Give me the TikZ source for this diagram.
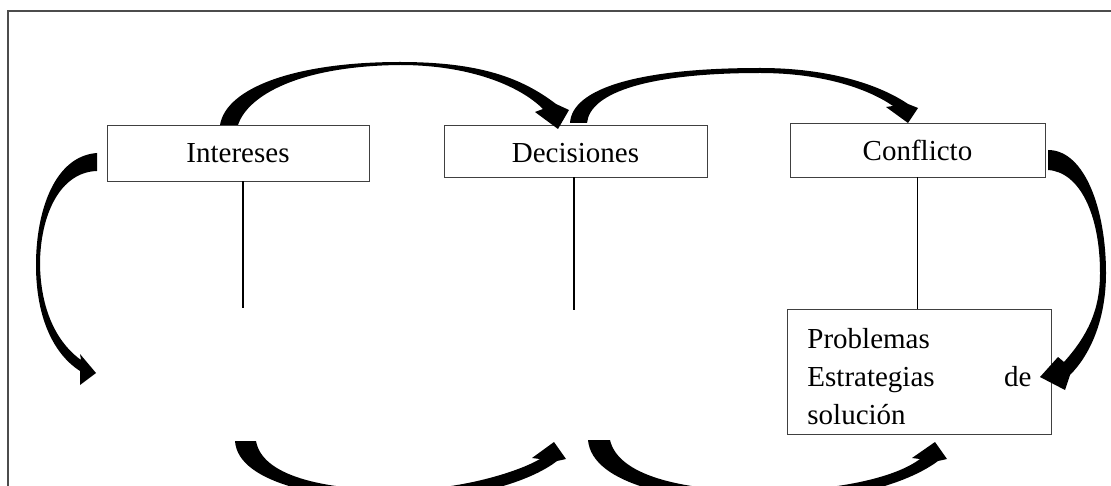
\documentclass[tikz,border=0pt]{standalone}
\usepackage{fontspec}
\setmainfont{Liberation Serif}
\begin{document}
\begin{tikzpicture}[x=1pt,y=-1pt,
  box/.style={draw=black!75, line width=0.9pt, inner sep=0pt, font=\fontsize{29}{37.8}\selectfont},
  conn/.style={draw=black, line width=1.1pt},
  frame/.style={draw=black!70, line width=1.2pt},
  bigarrow/.style={fill=black, draw=none}]
\useasboundingbox (0,0) rectangle (1111,486);
\clip (0,0) rectangle (1111,486);
% outer frame
\coordinate (fbl) at (8,490);
\coordinate (ftl) at (8,11);
\coordinate (ftr) at (1115,11);
\draw[frame] (fbl) -- (ftl) -- (ftr);
% boxes
\node[box, minimum width=262pt, minimum height=56pt, text height=20pt, text depth=0pt] (int) at (238,153) {Intereses};
\node[box, minimum width=263pt, minimum height=52pt, text height=24pt, text depth=0pt] (dec) at (575.5,151) {Decisiones};
\node[box, minimum width=255pt, minimum height=54pt, text height=22pt, text depth=0pt] (conf) at (917.5,150) {Conflicto};
\node[box, anchor=north west, inner xsep=20pt, inner ysep=0pt, text width=224pt, align=left] (prob) at (787,309)
  {\rule{0pt}{39pt}Problemas\\ \makebox[224pt][l]{Estrategias\hfill de}\\ solución\rule[-10pt]{0pt}{10pt}};
% vertical lines
\coordinate (iend) at (243,308);
\coordinate (dend) at (574,310);
\draw[conn] (int.south -| iend) -- (iend);
\draw[conn] (dec.south -| dend) -- (dend);
\draw[conn] (conf.south) -- (conf.south |- prob.north);
% A1: Intereses -> Decisiones (top)
\fill[bigarrow] (220,125) .. controls (226,88) and (295,62) .. (400,62)
  .. controls (480,62) and (522,78) .. (556,104) -- (569,110) -- (558,129) -- (535,112) -- (543,109)
  .. controls (520,86) and (470,65) .. (400,65)
  .. controls (300,66) and (248,95) .. (238,125) -- cycle;
% A2: Decisiones -> Conflicto (top)
\fill[bigarrow] (570,123) .. controls (572,88) and (640,68) .. (760,68)
  .. controls (830,68) and (880,85) .. (908,104) -- (918,108) -- (908,123) -- (886,107) -- (893,106)
  .. controls (870,90) and (825,73) .. (760,73)
  .. controls (650,73) and (590,92) .. (587,123) -- cycle;
% A3: Conflicto -> Problemas (right)
\fill[bigarrow] (1048,150) .. controls (1085,150) and (1106,210) .. (1106,273)
  .. controls (1106,320) and (1090,355) .. (1070,375) -- (1065,390) -- (1040,377) -- (1058,357) -- (1064,362)
  .. controls (1088,335) and (1100,310) .. (1100,273)
  .. controls (1100,215) and (1080,172) .. (1048,170) -- cycle;
% A4: left side
\fill[bigarrow] (97,153) .. controls (55,156) and (36,210) .. (36,265)
  .. controls (36,320) and (55,355) .. (80,371) -- (80,385) -- (96,373) -- (80,354) -- (81,360)
  .. controls (60,345) and (41,315) .. (40,265)
  .. controls (40,215) and (60,172) .. (97,171) -- cycle;
% A5: bottom left
\fill[bigarrow] (235,441) .. controls (238,485) and (330,500) .. (400,500)
  .. controls (470,500) and (530,482) .. (557,461) -- (566,459) -- (554,442) -- (532,458) -- (540,459)
  .. controls (518,472) and (460,490) .. (400,490)
  .. controls (320,490) and (262,475) .. (256,441) -- cycle;
% A6: bottom right
\fill[bigarrow] (588,440) .. controls (592,485) and (680,502) .. (765,502)
  .. controls (850,502) and (910,482) .. (938,461) -- (947,459) -- (935,442) -- (912,458) -- (920,459)
  .. controls (895,478) and (835,491) .. (765,491)
  .. controls (680,491) and (618,475) .. (610,440) -- cycle;
\end{tikzpicture}
\end{document}
